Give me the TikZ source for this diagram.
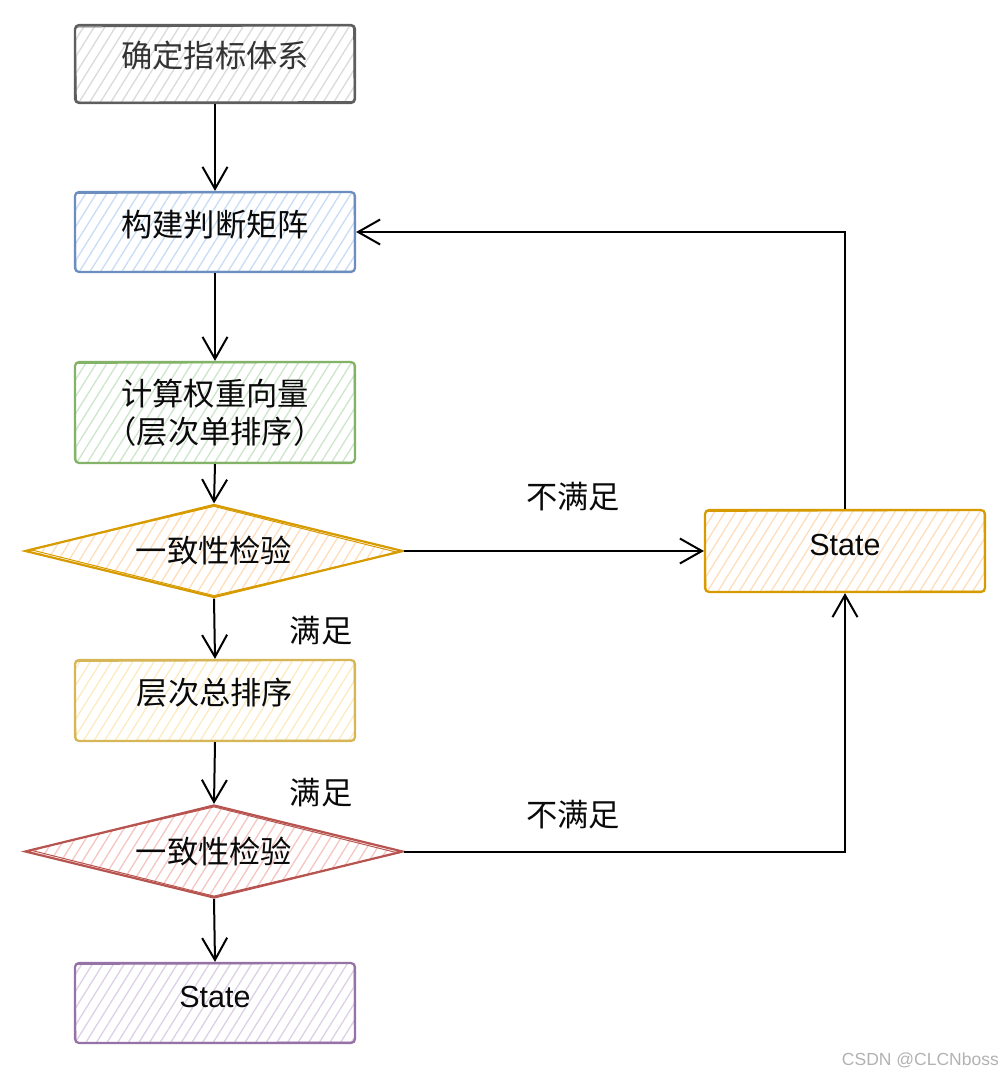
\documentclass[tikz,border=0pt]{standalone}
\usepackage{fontspec}
\setmainfont{Liberation Sans}
\newfontfamily\cjk{Noto Sans CJK SC}
\usetikzlibrary{arrows.meta,shapes.geometric,patterns.meta,calc}
\definecolor{gS}{HTML}{5E5E5E}\definecolor{gH}{HTML}{DADADA}\definecolor{gT}{HTML}{333333}
\definecolor{bS}{HTML}{6C8EBF}\definecolor{bH}{HTML}{C9DCF5}
\definecolor{grS}{HTML}{82B366}\definecolor{grH}{HTML}{CDE5CA}
\definecolor{oS}{HTML}{D79B00}\definecolor{oH}{HTML}{FFDDBA}
\definecolor{yS}{HTML}{D6B656}\definecolor{yH}{HTML}{FCEBBE}
\definecolor{rS}{HTML}{B85450}\definecolor{rH}{HTML}{F6C4C1}
\definecolor{pS}{HTML}{9673A6}\definecolor{pH}{HTML}{DDD0E6}
\definecolor{txt}{HTML}{0A0A0A}
\newcommand\skbox[2]{\draw[#2,line width=1pt,rounded corners=3pt] ($(#1.north west)+(1,2.5)$) -- ($(#1.north east)+(-2,1.5)$) -- ($(#1.south east)+(-1.5,-2)$) -- ($(#1.south west)+(2,-1.5)$) -- cycle;}
\newcommand\skdia[2]{\draw[#2,line width=1pt] ($(#1.north)+(0,3)$) -- ($(#1.east)+(-6,1.5)$) -- ($(#1.south)+(0,-3)$) -- ($(#1.west)+(6,-1.5)$) -- cycle;}
\tikzset{
  boxbase/.style={rectangle, rounded corners=4pt, line width=2.2pt, minimum width=280pt, minimum height=80pt, inner sep=0pt, font=\cjk\fontsize{31.3}{38}\selectfont, text=txt, align=center},
  up/.style={text height=22pt, text depth=14pt},
  diabase/.style={diamond, line width=2.2pt, minimum width=378pt, minimum height=93pt, inner sep=0pt, aspect=4, font=\cjk\fontsize{31.3}{38}\selectfont, text=txt},
  hatch/.style={pattern={Lines[angle=58,distance=9pt,line width=1.3pt]}, pattern color=#1},
  conn/.style={line width=2pt, -{Straight Barb[length=22pt,width=25pt,line width=2pt]}},
  lab/.style={font=\cjk\fontsize{31.3}{36}\selectfont, text=txt, inner sep=0pt},
}
\begin{document}
\begin{tikzpicture}[x=1pt,y=-1pt]
\useasboundingbox (0,0) rectangle (1004,1078);
% nodes
\node[boxbase, up, draw=gS, hatch=gH, text=gT, minimum height=78pt] (b1) at (215,64) {确定指标体系};
\node[boxbase, up, draw=bS, hatch=bH] (b2) at (215,232) {构建判断矩阵};
\node[boxbase, draw=grS, hatch=grH, minimum height=101pt] (b3) at (215,412.5) {计算权重向量\\（层次单排序）};
\node[diabase, draw=oS, hatch=oH] (d1) at (214,551) {一致性检验};
\node[boxbase, up, draw=oS, hatch=oH, minimum height=82pt, font=\fontsize{30.5}{36}\selectfont] (sR) at (845,551) {State};
\node[boxbase, up, draw=yS, hatch=yH, minimum height=81pt] (b4) at (215,700.5) {层次总排序};
\node[diabase, draw=rS, hatch=rH] (d2) at (214,851.5) {一致性检验};
\node[boxbase, up, draw=pS, hatch=pH, font=\fontsize{30.5}{36}\selectfont] (b5) at (215,1003) {State};
% sketch second outlines
\skbox{b1}{gS}
\skbox{b2}{bS}
\skbox{b3}{grS}
\skbox{sR}{oS}
\skbox{b4}{yS}
\skbox{b5}{pS}
\skdia{d1}{oS}
\skdia{d2}{rS}
% connectors
\draw[conn] (b1.south) -- (b2.north);
\draw[conn] (b2.south) -- (b3.north);
\draw[conn] (b3.south) -- (d1.north);
\draw[conn] (d1.south) -- (b4.north);
\draw[conn] (b4.south) -- (d2.north);
\draw[conn] (d2.south) -- (b5.north);
\draw[conn] (d1.east) -- (sR.west);
\draw[conn] (d2.east) -| (sR.south);
\draw[conn] (sR.north) |- (b2.east);
% labels
\node[lab] (l1) at (321,631) {满足};
\node[lab] (l2) at (321,793) {满足};
\node[lab] (l3) at (573,497) {不满足};
\node[lab] (l4) at (573,815) {不满足};
\node[font=\fontsize{17.5}{20}\selectfont, text=black!30, anchor=east, inner sep=0pt] (wm) at (999,1060) {CSDN @CLCNboss};
\end{tikzpicture}
\end{document}
